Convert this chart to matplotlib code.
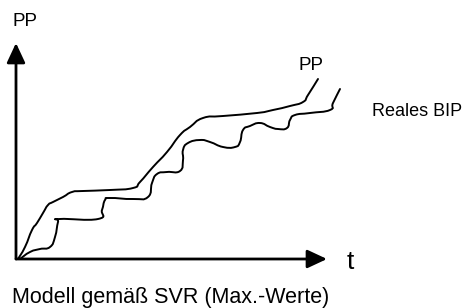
import numpy as np
import matplotlib
matplotlib.use("Agg")
import matplotlib.pyplot as plt
from matplotlib.patches import FancyArrowPatch, PathPatch
from matplotlib.path import Path

plt.rcParams["font.family"] = ["Liberation Sans", "DejaVu Sans"]

# curve points (t, level)
pp_t = [2, 9, 16, 21, 27, 32, 37, 47, 56, 67, 94, 117, 124, 137, 151, 164, 174,
        187, 207, 241, 257, 274, 287, 292, 302]
pp_y = [0, 12, 29, 36, 46, 54, 57, 62, 67, 68, 69, 71, 77, 92, 107, 124, 132,
        141, 143, 146, 149, 153, 157, 164, 180]

bip_t = [4, 14, 24, 34, 39, 42, 44, 82, 86, 89, 94, 117, 132, 136, 141, 151, 164,
         167, 167, 172, 184, 194, 207, 219, 224, 227, 234, 244, 254, 262, 271, 274,
         279, 294, 314, 317, 324]
bip_y = [0, 7, 10, 12, 22, 37, 40, 40, 49, 59, 61, 60, 62, 76, 85, 87, 88,
         99, 109, 116, 119, 117, 112, 112, 117, 129, 133, 136, 132, 130, 131, 139,
         144, 146, 149, 156, 170]

t_axis_end = 311
pp_axis_end = 216


def smooth_path(xs, ys, k=0.25):
    """Cubic Bezier path through the given points (Catmull-Rom tangents)."""
    p = np.column_stack([xs, ys]).astype(float)
    verts, codes = [p[0]], [Path.MOVETO]
    for i in range(len(p) - 1):
        prev = p[max(i - 1, 0)]
        nxt = p[min(i + 2, len(p) - 1)]
        c1 = p[i] + (p[i + 1] - prev) * k
        c2 = p[i + 1] - (nxt - p[i]) * k
        verts += [c1, c2, p[i + 1]]
        codes += [Path.CURVE4] * 3
    return Path(verts, codes)


W, H = 465, 308
fig = plt.figure(figsize=(W / 100, H / 100), dpi=100)
ax = fig.add_axes([16 / W, 49 / H, 449 / W, 259 / H])
ax.set_xlim(0, 449)
ax.set_ylim(0, 259)
ax.axis("off")

for xs, ys in [(pp_t, pp_y), (bip_t, bip_y)]:
    ax.add_patch(PathPatch(smooth_path(xs, ys), facecolor="none", edgecolor="black",
                           lw=1.4, joinstyle="round", capstyle="round"))

# axes with arrow heads
for end in [(t_axis_end, 0), (0, pp_axis_end)]:
    arr = FancyArrowPatch((0, 0), end, arrowstyle="-|>,head_length=0.6,head_width=0.28",
                          mutation_scale=20, color="black", lw=2.0,
                          shrinkA=0, shrinkB=0, clip_on=False)
    ax.add_patch(arr)

ax.text(-4, 237, "PP", fontsize=13.5, ha="left", va="center")
ax.text(283, 193, "PP", fontsize=13.5, ha="left", va="center")
ax.text(356, 147, "Reales BIP", fontsize=13, ha="left", va="center")
ax.text(331, -3, "t", fontsize=19, ha="left", va="center")
ax.text(-4, -38, "Modell gemäß SVR (Max.-Werte)", fontsize=15.5, ha="left", va="center")

fig.savefig("out.png", dpi=100)
